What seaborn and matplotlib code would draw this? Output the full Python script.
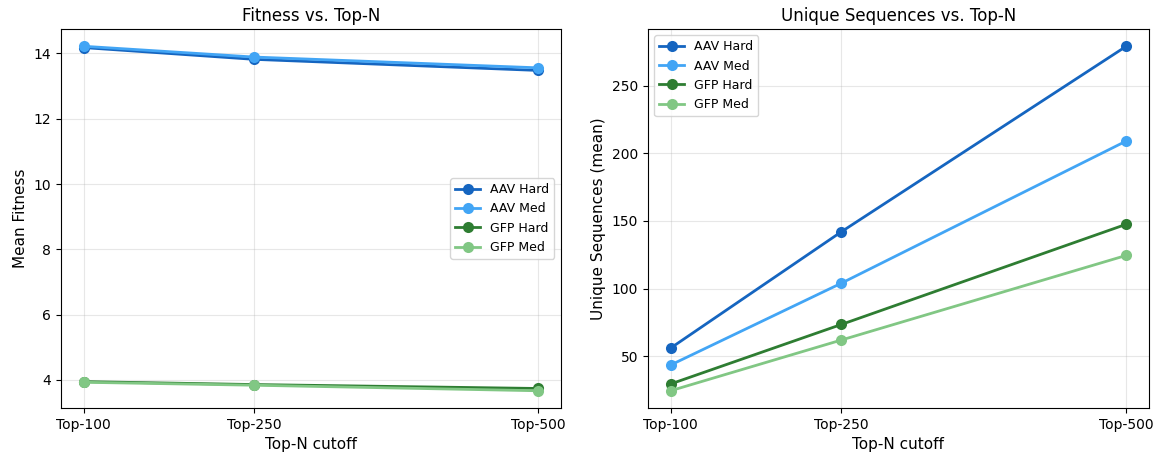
import matplotlib
matplotlib.use("Agg")
import matplotlib.pyplot as plt
import seaborn as sns
import pandas as pd

top_n = [100, 250, 500]
tick_labels = ["Top-100", "Top-250", "Top-500"]
series_names = ["AAV Hard", "AAV Med", "GFP Hard", "GFP Med"]
colors = ["#1565C0", "#42A5F5", "#2E7D32", "#81C784"]

fitness_aav_hard = [14.18, 13.82, 13.48]
fitness_aav_med = [14.22, 13.89, 13.56]
fitness_gfp_hard = [3.95, 3.86, 3.74]
fitness_gfp_med = [3.93, 3.84, 3.67]

uniq_aav_hard = [56, 142, 279]
uniq_aav_med = [43.5, 104, 209]
uniq_gfp_hard = [29.5, 73.5, 147.5]
uniq_gfp_med = [24.5, 62, 124.5]

def long_df(vals_list):
    rows = []
    for name, vals in zip(series_names, vals_list):
        for x, v in zip(top_n, vals):
            rows.append({"TopN": x, "value": v, "series": name})
    return pd.DataFrame(rows)

df_fit = long_df([fitness_aav_hard, fitness_aav_med, fitness_gfp_hard, fitness_gfp_med])
df_uniq = long_df([uniq_aav_hard, uniq_aav_med, uniq_gfp_hard, uniq_gfp_med])

plt.rcParams["font.family"] = ["DejaVu Sans"]
palette = dict(zip(series_names, colors))

fig, axes = plt.subplots(1, 2, figsize=(11.63, 4.61), dpi=100)

for ax, df, title, ylabel, loc in [
    (axes[0], df_fit, "Fitness vs. Top-N", "Mean Fitness", "center right"),
    (axes[1], df_uniq, "Unique Sequences vs. Top-N", "Unique Sequences (mean)", "upper left"),
]:
    sns.lineplot(data=df, x="TopN", y="value", hue="series", palette=palette,
                 marker="o", markersize=8, linewidth=2, markeredgewidth=0, ax=ax)
    ax.set_xticks(top_n)
    ax.set_xticklabels(tick_labels)
    ax.set_title(title, fontsize=12)
    ax.set_xlabel("Top-N cutoff", fontsize=11)
    ax.set_ylabel(ylabel, fontsize=11)
    ax.grid(True, alpha=0.3)
    ax.tick_params(labelsize=10)
    ax.legend(loc=loc, fontsize=9, title=None)

axes[0].set_yticks([4, 6, 8, 10, 12, 14])
axes[1].set_yticks([50, 100, 150, 200, 250])

fig.subplots_adjust(left=0.0524, right=0.988, top=0.937, bottom=0.115, wspace=0.0)
pos0 = axes[0].get_position()
axes[0].set_position([0.0524, pos0.y0, 0.482 - 0.0524, pos0.height])
axes[1].set_position([0.557, pos0.y0, 0.988 - 0.557, pos0.height])
fig.savefig("out.png", dpi=100)
